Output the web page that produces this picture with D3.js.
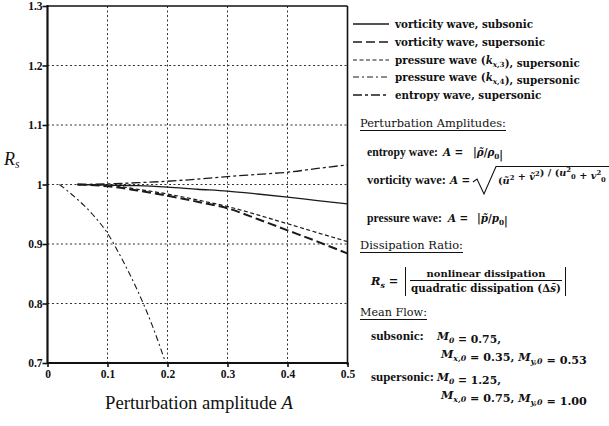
<!DOCTYPE html>
<html><head><meta charset="utf-8">
<script src="https://cdn.jsdelivr.net/npm/d3@7"></script>
<style>
html,body{margin:0;padding:0;background:#fff;}
svg text{fill:#111;}
</style></head>
<body>
<svg id="chart" width="609" height="426" font-family="'DejaVu Serif',serif"></svg>
<script>
// ---- data ----
const amplitude = [0.05, 0.1, 0.15, 0.2, 0.25, 0.3, 0.35, 0.4, 0.45, 0.5];
const vortSubsonic = [1.0, 0.999, 0.998, 0.9955, 0.992, 0.9888, 0.984, 0.9787, 0.973, 0.9676];
const vortSupersonic = [1.0, 0.997, 0.99, 0.981, 0.971, 0.96, 0.942, 0.923, 0.904, 0.884];
const pressure3 = [1.0, 0.999, 0.992, 0.984, 0.974, 0.963, 0.949, 0.934, 0.919, 0.904];
const entropyWave = [1.0, 1.001, 1.003, 1.0055, 1.009, 1.0134, 1.017, 1.0206, 1.027, 1.033];
const amplitudeP4 = [0.02, 0.05, 0.075, 0.1, 0.125, 0.15, 0.175, 0.197];
const pressure4 = [1.0, 0.975, 0.95, 0.918, 0.873, 0.822, 0.762, 0.70];
const xTicks = [0, 0.1, 0.2, 0.3, 0.4, 0.5];
const xTickLabels = ["0", "0.1", "0.2", "0.3", "0.4", "0.5"];
const yTicks = [0.7, 0.8, 0.9, 1.0, 1.1, 1.2, 1.3];
const yTickLabels = ["0.7", "0.8", "0.9", "1", "1.1", "1.2", "1.3"];
const kx = (n) => `<tspan font-style='italic'>k</tspan><tspan dy='3' font-size='0.7em' font-style='italic'>x</tspan><tspan font-size='0.7em'>,${n}</tspan><tspan dy='-3'></tspan>`;
const seriesNames = ["vorticity wave, subsonic", "vorticity wave, supersonic",
  `pressure wave (${kx(3)}), supersonic`,
  `pressure wave (${kx(4)}), supersonic`,
  "entropy wave, supersonic"];

const svg = d3.select("#chart");
const L = 47.5, R = 347.5, T = 6, B = 363;
const x = d3.scaleLinear().domain([0, 0.5]).range([L, R]);
const y = d3.scaleLinear().domain([0.7, 1.3]).range([B, T]);
const LIB = "'Liberation Serif',serif";

function fit(t, target) {
  const fs = parseFloat(t.attr("font-size"));
  const w = t.node().getComputedTextLength();
  if (w > 0) t.attr("font-size", (fs * target / w).toFixed(2));
  return t;
}

// gridlines
const grid = svg.append("g").attr("stroke", "#333").attr("stroke-width", 1).attr("stroke-dasharray", "2,2.5");
grid.selectAll("line.h").data(yTicks.slice(1, -1)).join("line")
  .attr("x1", L).attr("x2", R).attr("y1", d => y(d)).attr("y2", d => y(d));
grid.selectAll("line.v").data(xTicks.slice(1, -1)).join("line")
  .attr("y1", T).attr("y2", B).attr("x1", d => x(d)).attr("x2", d => x(d));

// axes
const yAxis = d3.axisLeft(y).tickValues(yTicks).tickSize(5).tickFormat((d, i) => yTickLabels[i]);
const xAxis = d3.axisBottom(x).tickValues(xTicks).tickSize(4).tickFormat((d, i) => xTickLabels[i]);
const gy = svg.append("g").attr("transform", `translate(${L},0)`).call(yAxis);
const gx = svg.append("g").attr("transform", `translate(0,${B})`).call(xAxis);
[gy, gx].forEach(g => {
  g.attr("font-family", LIB);
  g.select(".domain").remove();
  g.selectAll(".tick line").attr("stroke", "#111").attr("stroke-width", 1.6);
  g.selectAll(".tick text").attr("font-family", LIB).attr("font-weight", "bold")
    .attr("font-size", 11.5).attr("fill", "#222");
});
gy.selectAll(".tick text").attr("x", -5);
gx.selectAll(".tick text").attr("y", 7);

// frame
svg.append("line").attr("x1", L).attr("x2", R).attr("y1", T).attr("y2", T).attr("stroke", "#111").attr("stroke-width", 1.6);
svg.append("line").attr("x1", R).attr("x2", R).attr("y1", T).attr("y2", B + 2).attr("stroke", "#111").attr("stroke-width", 1.6);
svg.append("line").attr("x1", L).attr("x2", L).attr("y1", T - 1).attr("y2", B + 1).attr("stroke", "#111").attr("stroke-width", 2.2);
svg.append("line").attr("x1", L).attr("x2", R + 1).attr("y1", B).attr("y2", B).attr("stroke", "#111").attr("stroke-width", 2.2);

// series
const styles = [
  {dash: null, w: 1.3},
  {dash: "9,4", w: 2},
  {dash: "4,2.5", w: 1.2},
  {dash: "6,3,2,3", w: 1.1},
  {dash: "9,3,3,3", w: 1.3}
];
const series = [
  {xs: amplitude, ys: vortSubsonic, s: styles[0]},
  {xs: amplitude, ys: vortSupersonic, s: styles[1]},
  {xs: amplitude, ys: pressure3, s: styles[2]},
  {xs: amplitudeP4, ys: pressure4, s: styles[3]},
  {xs: amplitude, ys: entropyWave, s: styles[4]}
];
const line = d3.line().x(d => x(d[0])).y(d => y(d[1])).curve(d3.curveMonotoneX);
series.forEach(sr => {
  svg.append("path").datum(sr.xs.map((a, i) => [a, sr.ys[i]]))
    .attr("d", line).attr("fill", "none").attr("stroke", "#1a1a1a")
    .attr("stroke-width", sr.s.w).attr("stroke-dasharray", sr.s.dash);
});

// axis titles
svg.append("text").attr("x", 4).attr("y", 165).attr("font-size", 18).attr("font-family", LIB)
  .html("<tspan font-style='italic'>R</tspan><tspan dy='3' font-size='0.65em' font-style='italic'>s</tspan>");
fit(svg.append("text").attr("x", 105).attr("y", 409).attr("font-size", 18).attr("font-family", LIB)
  .html("Perturbation amplitude <tspan font-style='italic'>A</tspan>"), 188);

// legend
const legY = [24, 42, 60, 77, 95];
let bodyFs = 10;
styles.forEach((s, i) => {
  svg.append("line").attr("x1", 353).attr("x2", 389).attr("y1", legY[i]).attr("y2", legY[i])
    .attr("stroke", "#1a1a1a").attr("stroke-width", Math.min(s.w, 1.4)).attr("stroke-dasharray", s.dash);
  const t = svg.append("text").attr("x", 395).attr("y", legY[i] + 3.5).attr("font-size", 10).attr("font-weight", "bold")
    .html(seriesNames[i]);
  if (i === 0) { fit(t, 138); bodyFs = parseFloat(t.attr("font-size")); }
  else t.attr("font-size", bodyFs);
});

// annotations
function heading(txt, xx, yy, w) {
  fit(svg.append("text").attr("x", xx).attr("y", yy).attr("font-size", 11).text(txt), w);
  svg.append("line").attr("x1", xx).attr("x2", xx + w).attr("y1", yy + 3.5).attr("y2", yy + 3.5)
    .attr("stroke", "#111").attr("stroke-width", 1);
}
const it = (t) => `<tspan font-style='italic'>${t}</tspan>`;
const sub = (t) => `<tspan dy='3' font-size='0.7em'>${t}</tspan><tspan dy='-3'></tspan>`;
const sq = `<tspan dy='-4' font-size='0.7em'>2</tspan><tspan dy='4'></tspan>`;
const sq0 = `<tspan dy='-4' font-size='0.7em'>2</tspan><tspan dy='7' font-size='0.7em'>0</tspan><tspan dy='-3'></tspan>`;
const txt = (xx, yy, html, opt = {}) => svg.append("text").attr("x", xx).attr("y", yy)
  .attr("font-size", opt.fs || bodyFs).attr("font-weight", "bold").html(html);
const lab = (xx, yy, s, w) => fit(svg.append("text").attr("x", xx).attr("y", yy).attr("font-size", 11.5)
  .attr("font-family", LIB).attr("font-weight", "bold").text(s), w);

heading("Perturbation Amplitudes:", 360, 127, 146);
// entropy row
lab(367, 156, "entropy wave:", 71);
txt(443, 156, `${it("A")} =`);
txt(473, 156, `|${it("\u03C1\u0303")}/${it("\u03C1")}${sub("0")}|`);
// vorticity row
lab(367, 184, "vorticity wave:", 79);
txt(450, 184, `${it("A")} =`);
svg.append("path").attr("d", "M473,182 L477,179 L484,194 L496,166.5 L609,166.5")
  .attr("fill", "none").attr("stroke", "#111").attr("stroke-width", 1.1);
fit(txt(498, 184, `(${it("\u0169")}${sq} + ${it("\u1E7D")}${sq}) / (${it("u")}${sq0} + ${it("v")}${sq0}`), 108);
// pressure row
lab(367, 222, "pressure wave:", 75);
txt(448, 222, `${it("A")} =`);
txt(477, 222, `|${it("p\u0303")}/${it("p")}${sub("0")}|`);

heading("Dissipation Ratio:", 360, 249, 103);
svg.append("text").attr("x", 371).attr("y", 285).attr("font-size", bodyFs + 1).attr("font-weight", "bold")
  .html(`${it("R")}<tspan dy='3' font-size='0.7em' font-style='italic'>s</tspan><tspan dy='-3'> =</tspan>`);
svg.append("path").attr("d", "M405.5,267 L405.5,296 M565.5,267 L565.5,296").attr("stroke", "#111").attr("stroke-width", 1);
svg.append("line").attr("x1", 410).attr("x2", 562).attr("y1", 280.5).attr("y2", 280.5).attr("stroke", "#111").attr("stroke-width", 1);
fit(svg.append("text").attr("x", 486).attr("y", 277).attr("text-anchor", "middle").attr("font-size", bodyFs).attr("font-weight", "bold")
  .text("nonlinear dissipation"), 119);
fit(svg.append("text").attr("x", 486).attr("y", 292).attr("text-anchor", "middle").attr("font-size", bodyFs).attr("font-weight", "bold")
  .html("quadratic dissipation (\u0394<tspan font-style='italic'>s\u0304</tspan>)"), 150);

heading("Mean Flow:", 360, 316, 67);
const M = (s) => `${it("M")}<tspan dy='3' font-size='0.7em' font-style='italic'>${s}</tspan><tspan dy='-3'></tspan>`;
lab(371, 340, "subsonic:", 53);
fit(txt(437, 340, `${M("0")} = 0.75,`), 64);
fit(txt(441, 358, `${M("x,0")} = 0.35, ${M("y,0")} = 0.53`), 146);
lab(371, 381, "supersonic:", 63);
fit(txt(437, 381, `${M("0")} = 1.25,`), 64);
fit(txt(441, 399, `${M("x,0")} = 0.75, ${M("y,0")} = 1.00`), 146);
</script>
</body></html>
